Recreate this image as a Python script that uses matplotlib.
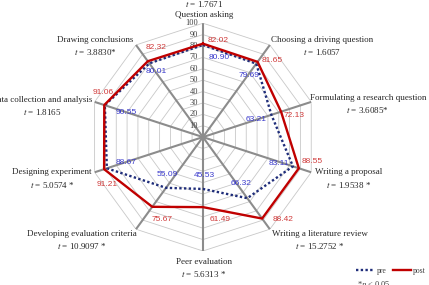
import matplotlib.pyplot as plt
import numpy as np

# ================== Data ==================
CATEGORIES = [
    "Question asking",
    "Choosing a driving question",
    "Formulating a research question",
    "Writing a proposal",
    "Writing a literature review",
    "Peer evaluation",
    "Developing evaluation criteria",
    "Designing experiment",
    "Data collection and analysis",
    "Drawing conclusions",
]
T_LABELS = [
    "1.7671", "1.6057", "3.6085*", "1.9538 *", "15.2752 *",
    "5.6313 *", "10.9097 *", "5.0574 *", "1.8165", "3.8830*",
]
PRE = [80.90, 79.69, 63.21, 83.11, 66.32, 45.53, 55.09, 88.67, 90.55, 80.01]
POST = [82.02, 81.65, 72.13, 88.55, 88.42, 61.49, 75.67, 91.21, 91.06, 82.32]
RTICKS = [10, 20, 30, 40, 50, 60, 70, 80, 90, 100]

# ================== Style ==================
PRE_COLOR = "#1f2d7a"
POST_COLOR = "#c00000"
PRE_TEXT = "#3a3acc"
POST_TEXT = "#d03a3a"
GRID_COLOR = "#c8c8c8"
SPOKE_COLOR = "#8c8c8c"
SERIF = "Liberation Serif"
SANS = "Liberation Sans"

plt.rcParams["mathtext.fontset"] = "stix"

# offsets (points) of the category labels from the spoke end
CAT_OFFSETS = [(0.7, 10.2), (37.4, -1.2), (40.8, -1.9), (27, -4.9), (36, -8.1),
               (0.7, -12.6), (-38.9, -8.1), (-30.7, -4.9), (-38, -3.4), (-29.5, -1.2)]
# offsets (points) of the value labels from each point
PRE_OFFSETS = [(11.5, -8.8), (-5.3, -8.3), (-10.8, -3.3), (-10, 2.4), (-4.3, 10.6),
               (0.7, 10), (0.7, 9.7), (14, 4.5), (15.6, -5.5), (4.8, -6.1)]
POST_OFFSETS = [(10.8, 2.5), (10.7, 1.2), (9.2, -2.4), (9.4, 5), (14.8, -0.5),
                (12.2, -8.6), (7.4, -8.8), (2.2, -11), (-1, 8.9), (6.3, 9.6)]

n = len(CATEGORIES)
theta = np.arange(n) * 2 * np.pi / n
theta_closed = np.append(theta, theta[0])

fig = plt.figure(figsize=(4.29, 2.85), dpi=100)
ax = fig.add_axes([0.2075, 0.119, 0.531, 0.8], projection="polar")
ax.set_theta_offset(np.pi / 2)
ax.set_theta_direction(-1)
ax.set_ylim(0, 100)
ax.grid(False)
ax.set_xticks([])
ax.set_yticks([])
ax.spines["polar"].set_visible(False)
ax.patch.set_alpha(0)

# polygon grid
for r in RTICKS:
    ax.plot(theta_closed, [r] * (n + 1), color=GRID_COLOR, lw=0.6, zorder=1)
# spokes
for t in theta:
    ax.plot([t, t], [0, 100], color=SPOKE_COLOR, lw=1.5, zorder=2)
# radial tick labels
for r in RTICKS:
    ax.annotate(str(r), xy=(0, r), xytext=(-3.5, 0), textcoords="offset points",
                ha="right", va="center", fontsize=6, family=SERIF,
                color="#404040", zorder=3)

# series
ax.plot(theta_closed, PRE + PRE[:1], color=PRE_COLOR, lw=1.7,
        linestyle=(0, (1, 1)), label="pre", zorder=4)
ax.plot(theta_closed, POST + POST[:1], color=POST_COLOR, lw=1.7,
        label="post", zorder=5)

# value labels
for i in range(n):
    ax.annotate(f"{PRE[i]:.2f}", xy=(theta[i], PRE[i]), xytext=PRE_OFFSETS[i],
                textcoords="offset points", ha="center", va="center",
                fontsize=6, family=SANS, color=PRE_TEXT, zorder=6)
    ax.annotate(f"{POST[i]:.2f}", xy=(theta[i], POST[i]), xytext=POST_OFFSETS[i],
                textcoords="offset points", ha="center", va="center",
                fontsize=6, family=SANS, color=POST_TEXT, zorder=6)

# category labels with t values
for i, name in enumerate(CATEGORIES):
    tline = f"$t$ = {T_LABELS[i]}"
    txt = f"{tline}\n{name}" if i == 0 else f"{name}\n{tline}"
    ax.annotate(txt, xy=(theta[i], 100), xytext=CAT_OFFSETS[i],
                textcoords="offset points", ha="center", va="center",
                multialignment="center", linespacing=1.45,
                fontsize=6.5, family=SERIF, color="#262626",
                annotation_clip=False)

leg = fig.legend(loc="center", bbox_to_anchor=(391 / 429, 1 - 271 / 285),
                 ncol=2, frameon=False, handlelength=2.4, handletextpad=0.3,
                 columnspacing=0.8, prop={"family": SERIF, "size": 5.5})
for t in leg.get_texts():
    t.set_color("#404040")

fig.text(357 / 429, 0.0, "*$p$ < 0.05", ha="left", va="center",
         fontsize=6, family=SERIF, color="#404040")

fig.savefig("out.png", dpi=100)
